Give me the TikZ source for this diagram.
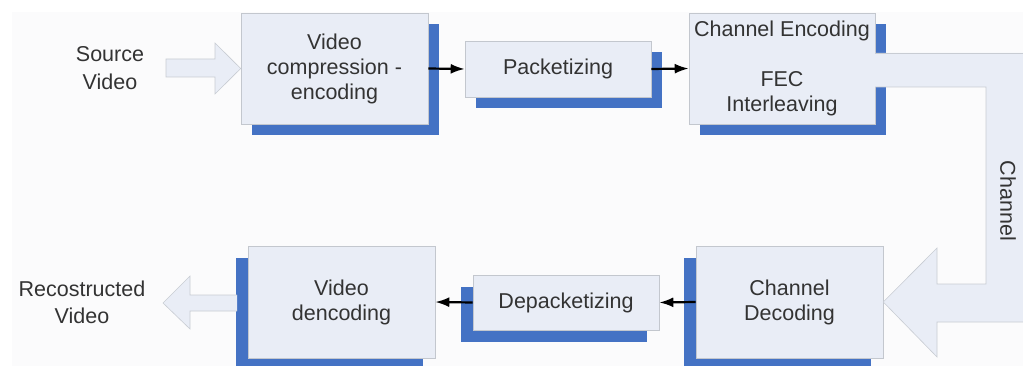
\documentclass[tikz,border=0pt]{standalone}
\usepackage{fontspec}
\setmainfont{Liberation Sans}
\usetikzlibrary{shadows,arrows.meta}
\definecolor{boxfill}{HTML}{E9EDF6}
\definecolor{boxline}{HTML}{C3C7CE}
\definecolor{shblue}{HTML}{4472C4}
\definecolor{txt}{HTML}{333333}
\definecolor{bigfill}{HTML}{E9EDF6}
\definecolor{bigline}{HTML}{C8CCD3}
\definecolor{bg}{HTML}{FBFBFC}
\begin{document}
\begin{tikzpicture}[x=1pt,y=-1pt,
  every node/.style={text=txt,font=\fontsize{21.5}{25}\selectfont,align=center,inner sep=0pt},
  blk/.style={draw=boxline,line width=0.6pt,fill=boxfill},
  shR/.style={general shadow={shadow xshift=11pt,shadow yshift=-11pt,fill=shblue}},
  shL/.style={general shadow={shadow xshift=-12pt,shadow yshift=-12pt,fill=shblue}},
  flow/.style={-{Latex[length=14pt,width=10pt]},line width=2.2pt,black},
  big/.style={fill=bigfill},
  bigedge/.style={draw=bigline,line width=0.6pt}]
\useasboundingbox (0,0) rectangle (1023,366);
\fill[white] (0,0) rectangle (1023,366);
\fill[bg] (12,12) rectangle (1023,366);

% boxes
\node[blk,shR,minimum width=187pt,minimum height=111pt] (enc) at (334.5,68.5) {Video\\compression -\\encoding};
\node[blk,shR,minimum width=186pt,minimum height=56pt] (pkt) at (558,69) {Packetizing};
\node[blk,shR,minimum width=186pt,minimum height=111pt] (chenc) at (782,68.5) {Channel Encoding\\ \\FEC\\Interleaving};
\node[blk,shL,minimum width=187pt,minimum height=112pt] (chdec) at (789.5,302) {Channel\\Decoding};
\node[blk,shL,minimum width=186pt,minimum height=55pt] (depkt) at (566,302.5) {Depacketizing};
\node[blk,shL,minimum width=187pt,minimum height=112pt] (vdec) at (341.5,302) {Video\\dencoding};

% side labels
\node (src) at (110,68) {Source\\[3pt]Video};
\node (rec) at (82,302) {Recostructed\\[2pt]Video};

% source arrow
\coordinate (srctip) at (enc.west);
\fill[big] (166,59) -- (215,59) -- (215,43) -- (srctip) -- (215,94) -- (215,77) -- (166,77) -- cycle;
\draw[bigedge] (166,59) -- (215,59) -- (215,43) -- (srctip) -- (215,94) -- (215,77) -- (166,77) -- cycle;

% reconstructed arrow
\coordinate (rectip) at (163,303);
\fill[big] (237,295) -- (190,295) -- (190,276) -- (rectip) -- (190,329) -- (190,311) -- (237,311) -- cycle;
\draw[bigedge] (237,295) -- (190,295) -- (190,276) -- (rectip) -- (190,329) -- (190,311) -- (237,311);

% channel arrow
\coordinate (chtip) at (chdec.east);
\fill[big] (875,53) -- (1023,53) -- (1023,322) -- (937,322) -- (937,357) -- (chtip) -- (937,248) -- (937,284) -- (986,284) -- (986,87) -- (875,87) -- cycle;
\draw[bigedge] (875,53) -- (1023,53);
\draw[bigedge] (1023,322) -- (937,322) -- (937,357) -- (chtip) -- (937,248) -- (937,284) -- (986,284) -- (986,87) -- (875,87);
\node[rotate=-90] (chl) at (1008,201) {Channel};

% flow arrows
\draw[flow] (enc.east) -- (pkt.west);
\draw[flow] (pkt.east) -- (chenc.west);
\draw[flow] (chdec.west) -- (depkt.east);
\draw[flow] (depkt.west) -- (vdec.east);
\end{tikzpicture}
\end{document}
